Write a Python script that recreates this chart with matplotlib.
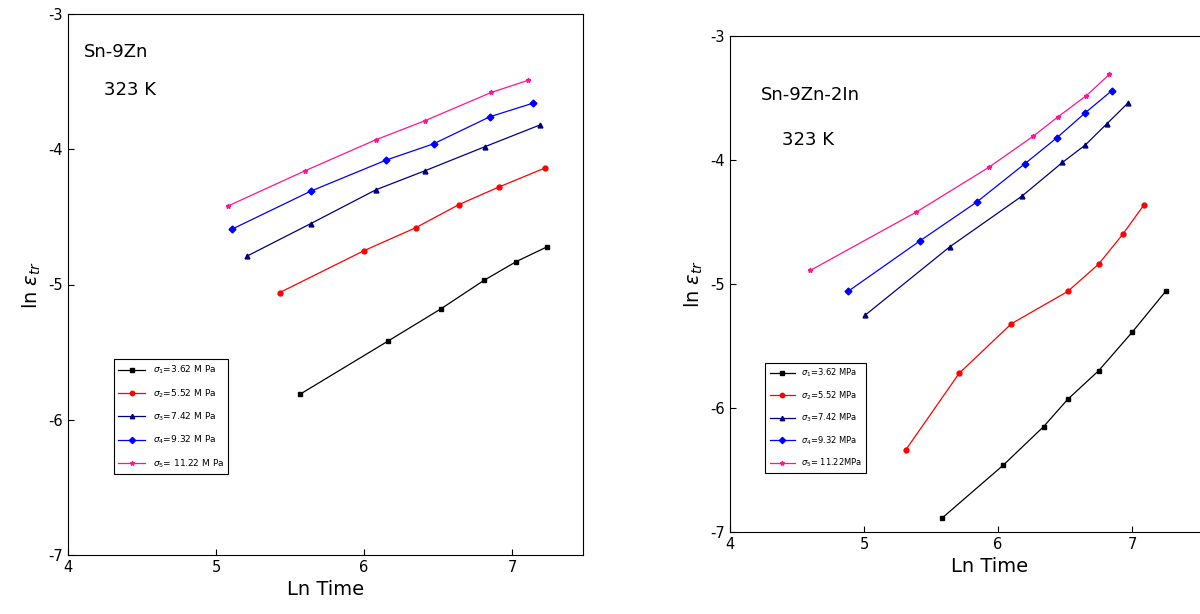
import matplotlib
matplotlib.use("Agg")
import matplotlib.pyplot as plt
plt.rcParams['axes.unicode_minus'] = False

labels_L = [r"$\sigma_1$=3.62 M Pa", r"$\sigma_2$=5.52 M Pa", r"$\sigma_3$=7.42 M Pa", r"$\sigma_4$=9.32 M Pa", r"$\sigma_5$= 11.22 M Pa"]
labels_R = [r"$\sigma_1$=3.62 MPa", r"$\sigma_2$=5.52 MPa", r"$\sigma_3$=7.42 MPa", r"$\sigma_4$=9.32 MPa", r"$\sigma_5$= 11.22MPa"]
colors = ["black", "red", "#000080", "blue", "#ff1493"]
markers = ["s", "o", "^", "D", "*"]

L_x = [[5.57, 6.16, 6.52, 6.81, 7.03, 7.24],
       [5.43, 6.00, 6.35, 6.64, 6.91, 7.22],
       [5.21, 5.64, 6.08, 6.41, 6.82, 7.19],
       [5.11, 5.64, 6.15, 6.47, 6.85, 7.14],
       [5.08, 5.60, 6.08, 6.41, 6.86, 7.11]]
L_y = [[-5.81, -5.42, -5.18, -4.97, -4.83, -4.72],
       [-5.06, -4.75, -4.58, -4.41, -4.28, -4.14],
       [-4.79, -4.55, -4.30, -4.16, -3.98, -3.82],
       [-4.59, -4.31, -4.08, -3.96, -3.76, -3.66],
       [-4.42, -4.16, -3.93, -3.79, -3.58, -3.49]]
R_x = [[5.58, 6.04, 6.34, 6.52, 6.75, 7.00, 7.25],
       [5.31, 5.71, 6.10, 6.52, 6.75, 6.93, 7.09],
       [5.01, 5.64, 6.18, 6.48, 6.65, 6.81, 6.97],
       [4.88, 5.42, 5.84, 6.20, 6.44, 6.65, 6.85],
       [4.60, 5.39, 5.93, 6.26, 6.45, 6.66, 6.83]]
R_y = [[-6.89, -6.46, -6.15, -5.93, -5.70, -5.39, -5.06],
       [-6.34, -5.72, -5.32, -5.06, -4.84, -4.60, -4.36],
       [-5.25, -4.70, -4.29, -4.02, -3.88, -3.71, -3.54],
       [-5.06, -4.65, -4.34, -4.03, -3.82, -3.62, -3.44],
       [-4.89, -4.42, -4.06, -3.81, -3.65, -3.48, -3.31]]

fig = plt.figure(figsize=(12, 6.14), dpi=100)
axL = fig.add_axes([68/1200, 59/614, 515/1200, 541/614])
axR = fig.add_axes([730/1200, 82/614, 520/1200, 496/614])

def draw(ax, xs, ys, labels, xlim, title, tx, ty, ky, fs_leg, leg_anchor):
    for x, y, c, m, l in zip(xs, ys, colors, markers, labels):
        ax.plot(x, y, color=c, marker=m, ms=3.5, lw=0.9, label=l)
    ax.set_xlim(*xlim)
    ax.set_ylim(-7, -3)
    ax.set_xticks([4, 5, 6, 7])
    ax.set_yticks([-7, -6, -5, -4, -3])
    ax.tick_params(direction="in", labelsize=10.5, length=4)
    ax.set_xlabel("Ln Time", fontsize=14)
    ax.set_ylabel(r"ln $\varepsilon_{tr}$", fontsize=14)
    ax.text(tx, ty, title, transform=ax.transAxes, fontsize=13)
    ax.text(tx + 0.04, ky, "323 K", transform=ax.transAxes, fontsize=13)
    leg = ax.legend(loc="upper left", bbox_to_anchor=leg_anchor, fontsize=fs_leg,
                    fancybox=False, edgecolor="black", framealpha=1, handlelength=3,
                    labelspacing=1.2, borderpad=0.5, markerscale=0.9)
    leg.get_frame().set_linewidth(0.8)

draw(axL, L_x, L_y, labels_L, (4, 7.48), "Sn-9Zn", 0.03, 0.92, 0.85, 6.5, (0.08, 0.37))
draw(axR, R_x, R_y, labels_R, (4, 7.88), "Sn-9Zn-2In", 0.06, 0.87, 0.78, 6, (0.06, 0.35))

fig.savefig("out.png", dpi=100)
